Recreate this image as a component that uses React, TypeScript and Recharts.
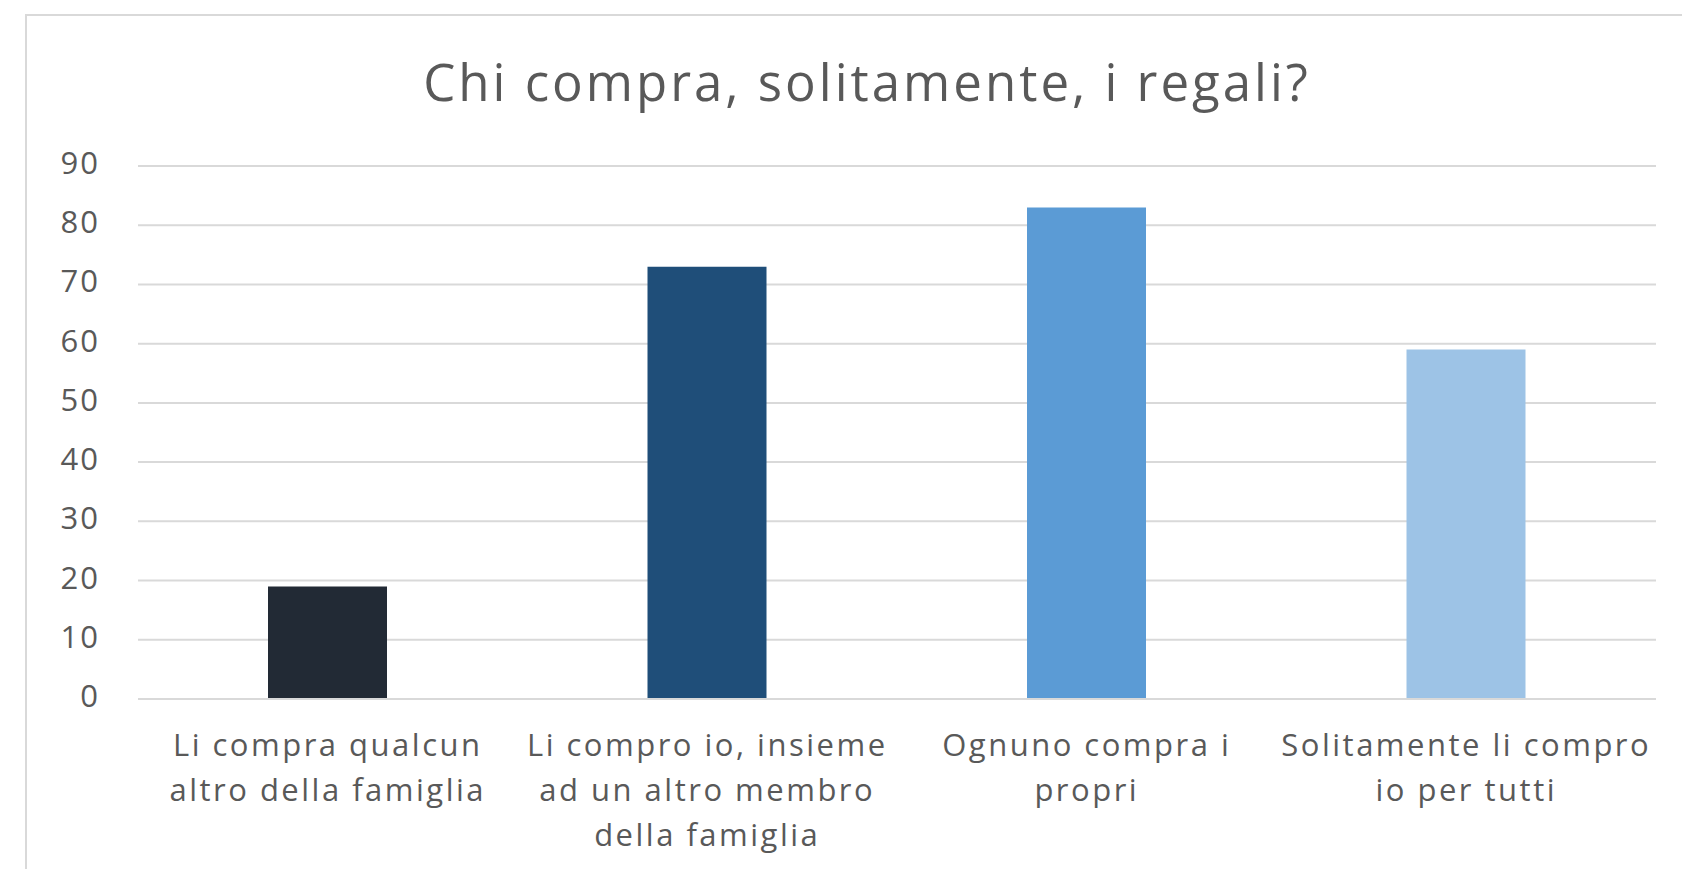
import React from "react";
import { BarChart, Bar, XAxis, YAxis, CartesianGrid, Cell } from "recharts";

const CATEGORIES = [
  "Li compra qualcun altro della famiglia",
  "Li compro io, insieme ad un altro membro della famiglia",
  "Ognuno compra i propri",
  "Solitamente li compro io per tutti",
];
const VALUES = [19, 73, 83, 59];
const Y_TICKS = [0, 10, 20, 30, 40, 50, 60, 70, 80, 90];
const BAR_COLORS = ["#222a35", "#1f4e79", "#5b9bd5", "#9dc3e6"];

const TITLE = "Chi compra, solitamente, i regali?";
const FONT = "'Open Sans', sans-serif";
const TEXT = "#595959";

const data = CATEGORIES.map((name, i) => ({ name, value: VALUES[i] }));

// greedy word wrap, Excel-style
function wrap(label: string, maxChars = 21): string[] {
  const lines: string[] = [];
  let cur = "";
  for (const w of label.split(" ")) {
    const next = cur ? cur + " " + w : w;
    if (next.length > maxChars && cur) {
      lines.push(cur);
      cur = w;
    } else {
      cur = next;
    }
  }
  if (cur) lines.push(cur);
  return lines;
}

const CategoryTick = (props: any) => {
  const { x, y, payload } = props;
  const lines = wrap(payload.value);
  return (
    <text
      x={x}
      y={y}
      textAnchor="middle"
      fill={TEXT}
      fontFamily={FONT}
      fontSize={31}
      letterSpacing={2.5}
    >
      {lines.map((l, i) => (
        <tspan key={i} x={x} dy={i === 0 ? 49 : 45}>
          {l}
        </tspan>
      ))}
    </text>
  );
};

export default function App() {
  return (
    <div
      style={{
        position: "relative",
        width: 1682,
        height: 869,
        overflow: "hidden",
        background: "#fff",
      }}
    >
      <style>{"body{margin:0}"}</style>
      <div
        style={{
          position: "absolute",
          left: 25,
          top: 14,
          width: 1700,
          height: 900,
          border: "2px solid #d9d9d9",
        }}
      />
      <div
        style={{
          position: "absolute",
          left: 0,
          top: 46,
          width: 1734,
          textAlign: "center",
          fontFamily: FONT,
          fontSize: 51,
          letterSpacing: 3,
          color: TEXT,
        }}
      >
        {TITLE}
      </div>
      <div style={{ position: "absolute", left: 0, top: 0 }}>
        <BarChart
          width={1682}
          height={869}
          data={data}
          margin={{ top: 166, right: 26, left: 0, bottom: 0 }}
        >
          <CartesianGrid vertical={false} stroke="#d9d9d9" strokeWidth={2} />
          <XAxis
            dataKey="name"
            axisLine={{ stroke: "#d9d9d9", strokeWidth: 2 }}
            tickLine={false}
            interval={0}
            height={170}
            tick={<CategoryTick />}
          />
          <YAxis
            domain={[0, 90]}
            ticks={Y_TICKS}
            axisLine={false}
            tickLine={false}
            tickSize={0}
            tickMargin={38}
            width={138}
            tick={{
              fill: TEXT,
              fontFamily: FONT,
              fontSize: 31,
              letterSpacing: 2,
              dy: -3,
            }}
          />
          <Bar dataKey="value" barSize={119} isAnimationActive={false}>
            {data.map((_, i) => (
              <Cell key={i} fill={BAR_COLORS[i]} />
            ))}
          </Bar>
        </BarChart>
      </div>
    </div>
  );
}
